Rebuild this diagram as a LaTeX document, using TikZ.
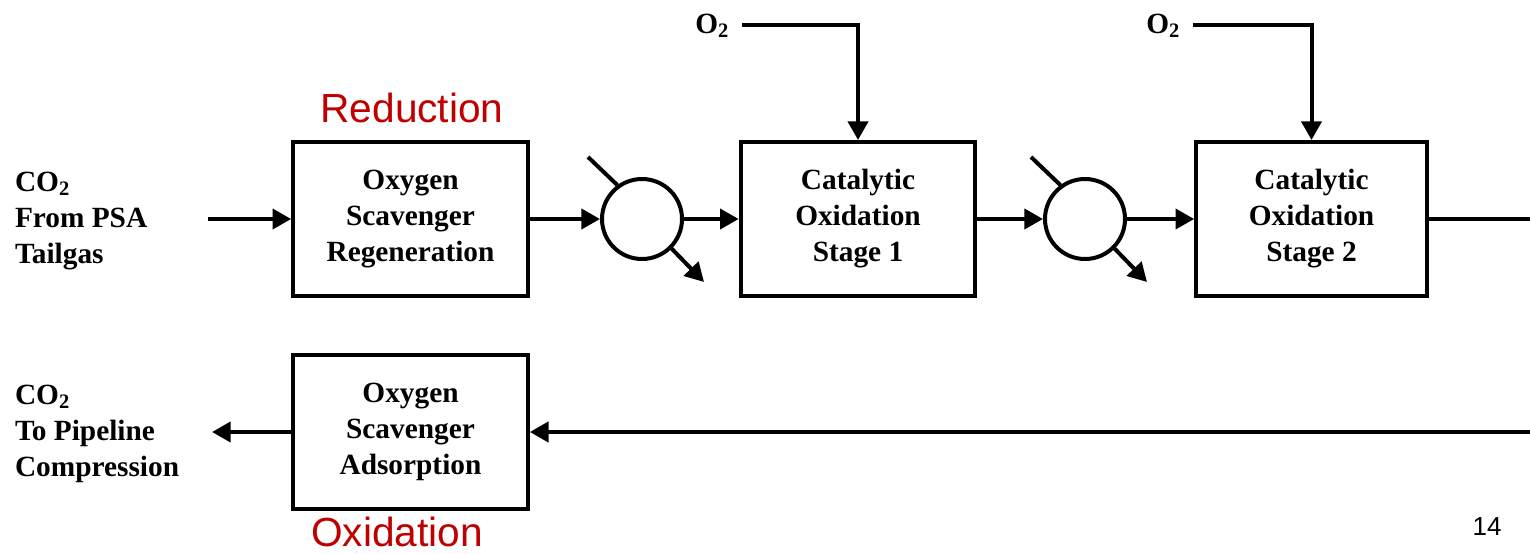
\documentclass[tikz,border=0pt]{standalone}
\usepackage{fontspec}
\setmainfont{Liberation Serif}
\newfontfamily\arialfont{Liberation Sans}
\usetikzlibrary{arrows.meta}
\definecolor{labred}{RGB}{192,0,0}
\begin{document}
\begin{tikzpicture}[x=0.75pt,y=-0.75pt,
  line width=3pt,
  txt/.style={font=\bfseries\fontsize{22}{27}\selectfont},
  box/.style={txt, draw, line width=3pt, minimum width=176pt, minimum height=115.5pt, align=center, inner sep=0pt},
  hx/.style={draw, circle, line width=3pt, minimum size=60pt, inner sep=0pt},
  flow/.style={line width=3pt, -{Triangle[length=14pt,width=15pt]}},
  lbl/.style={txt, align=left, inner sep=0pt},
  redlbl/.style={text=labred, font=\arialfont\fontsize{30.5}{36}\selectfont, inner sep=0pt}]
\useasboundingbox (0,0) rectangle (1530,553);
% boxes
\node[box] (regen) at (410.5,219) {Oxygen\\Scavenger\\Regeneration};
\node[box] (cat1) at (858,219) {Catalytic\\Oxidation\\Stage 1};
\node[box, minimum width=173pt] (cat2) at (1311.5,219) {Catalytic\\Oxidation\\Stage 2};
\node[box] (ads) at (410.5,432) {Oxygen\\Scavenger\\Adsorption};
% heat exchangers
\node[hx] (hx1) at (642,219) {};
\node[hx] (hx2) at (1085,219) {};
% side labels
\node[lbl, anchor=west] (src) at (13,221) {CO\textsubscript{2}\\From PSA\\Tailgas};
\node[lbl, anchor=west] (dst) at (13,434) {CO\textsubscript{2}\\To Pipeline\\Compression};
\node[txt, anchor=east, inner sep=0pt] (o2a) at (731,26) {O\textsubscript{2}};
\node[txt, anchor=east, inner sep=0pt] (o2b) at (1182,26) {O\textsubscript{2}};
\node[redlbl] (redn) at (412,108) {Reduction};
\node[redlbl] (oxid) at (397,532) {Oxidation};
\node[font=\arialfont\fontsize{19.5}{22}\selectfont, inner sep=0pt] (page) at (1487,527) {14};
% free ends
\coordinate (in) at (208,219);
\coordinate (rend) at (1530,219);
\coordinate (rin) at (1530,432);
\coordinate (out) at (212,432);
\coordinate (hx1i) at (588,157);
\coordinate (hx1o) at (704,282);
\coordinate (hx2i) at (1031,157);
\coordinate (hx2o) at (1147,282);
\coordinate (o2as) at (742,25);
\coordinate (o2bs) at (1193,25);
% connectors
\draw[flow] (in) -- (regen);
\draw[flow] (regen) -- (hx1);
\draw[flow] (hx1) -- (cat1);
\draw[flow] (cat1) -- (hx2);
\draw[flow] (hx2) -- (cat2);
\draw (cat2.east) -- (rend);
\draw[flow] (rin) -- (ads);
\draw[flow] (ads) -- (out);
\draw (hx1i) -- (hx1.126);
\draw[flow] (hx1.-45) -- (hx1o);
\draw (hx2i) -- (hx2.126);
\draw[flow] (hx2.-45) -- (hx2o);
\draw[flow] (o2as) -- (o2as -| cat1.north) -- (cat1.north);
\draw[flow] (o2bs) -- (o2bs -| cat2.north) -- (cat2.north);
\end{tikzpicture}
\end{document}
